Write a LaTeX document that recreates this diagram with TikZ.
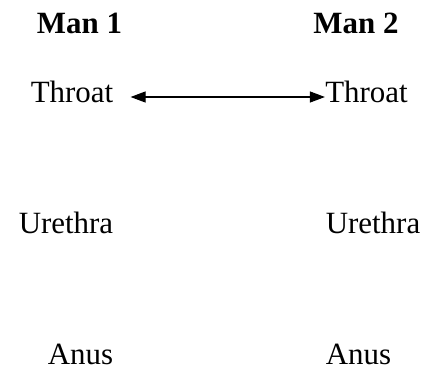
\documentclass[tikz,border=0pt]{standalone}
\usepackage{fontspec}
\setmainfont{Liberation Serif}
\usepackage{tikz}
\usetikzlibrary{arrows.meta, positioning, calc}
\newcommand{\labelsize}{\fontsize{17.6}{21}\selectfont}
\tikzset{
	head/.style   ={inner sep=0pt, anchor=base, font=\labelsize\bfseries},
	organ/.style  ={inner sep=0pt, anchor=base, font=\labelsize},
	linkarrow/.style={{Triangle[length=0.3cm, width=0.22cm]}-{Triangle[length=0.3cm, width=0.22cm]}, line width=0.6pt},
}
\begin{document}
\begin{tikzpicture}
	\useasboundingbox (0,0) rectangle (8.54,7.38);
	\node[head] (man1) at (1.59,6.72) {Man 1};
	\node[head] (man2) at (7.12,6.72) {Man 2};
	\node[organ] (throat1) at (1.44,5.34) {Throat};
	\node[organ] (throat2) at (7.33,5.34) {Throat};
	\node[organ] (urethra1) at (1.32,2.72) {Urethra};
	\node[organ] (urethra2) at (7.46,2.72) {Urethra};
	\node[organ] (anus1) at (1.61,0.10) {Anus};
	\node[organ] (anus2) at (7.17,0.10) {Anus};
	\draw[linkarrow] ($(throat1.base east)+(0.34,0.1)$) -- ($(throat2.base west)+(0,0.1)$);
\end{tikzpicture}
\end{document}
